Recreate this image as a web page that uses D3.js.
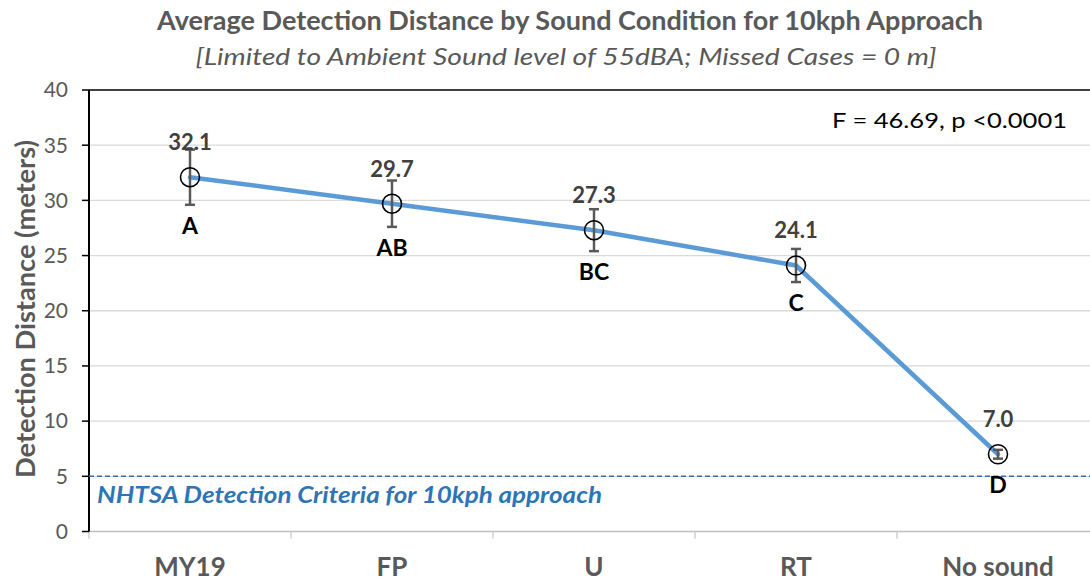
<!DOCTYPE html>
<html><head><meta charset="utf-8">
<script src="https://cdn.jsdelivr.net/npm/d3@7"></script>
<style>html,body{margin:0;padding:0;background:#fff;}svg{display:block;}</style>
</head><body>
<svg id="c" width="1090" height="581"></svg>
<script>
const categories = ["MY19", "FP", "U", "RT", "No sound"];
const means = [32.1, 29.7, 27.3, 24.1, 7.0];
const errors = [2.5, 2.1, 1.9, 1.5, 0.4];
const groups = ["A", "AB", "BC", "C", "D"];
const yTicks = [0, 5, 10, 15, 20, 25, 30, 35, 40];
const criterion = 5;
const titleText = "Average Detection Distance by Sound Condition for 10kph Approach";
const subtitleText = "[Limited to Ambient Sound  level of 55dBA; Missed Cases = 0 m]";
const statText = "F = 46.69, p <0.0001";
const criterionText = "NHTSA Detection Criteria for 10kph approach";
const yLabel = "Detection Distance (meters)";

const svg = d3.select("#c");
const font = "Lato, 'Open Sans', sans-serif";
const L = 89, R = 1099, T = 90, B = 531.5;
const x = d3.scaleBand().domain(categories).range([L, R]).padding(0);
const y = d3.scaleLinear().domain([0, 40]).range([B, T]);
const cx = c => x(c) + x.bandwidth() / 2;

// gridlines
svg.append("g").selectAll("line").data(yTicks.filter(t => t > 0 && t < 40)).join("line")
  .attr("x1", L).attr("x2", 1090).attr("y1", d => y(d)).attr("y2", d => y(d))
  .attr("stroke", "#d9d9d9").attr("stroke-width", 1.3);

// top border
svg.append("line").attr("x1", L).attr("x2", 1090).attr("y1", y(40)).attr("y2", y(40))
  .attr("stroke", "#000").attr("stroke-width", 1.5);

// x axis
svg.append("line").attr("x1", L).attr("x2", 1090).attr("y1", B).attr("y2", B)
  .attr("stroke", "#bfbfbf").attr("stroke-width", 1.5);
svg.append("g").selectAll("line").data(categories).join("line")
  .attr("x1", d => x(d)).attr("x2", d => x(d)).attr("y1", B).attr("y2", B + 7)
  .attr("stroke", "#d0d0d0").attr("stroke-width", 1.5);
svg.append("g").selectAll("text").data(categories).join("text")
  .attr("x", d => cx(d)).attr("y", 576).attr("text-anchor", "middle")
  .attr("font-family", font).attr("font-weight", "bold").attr("font-size", 26)
  .attr("fill", "#595959").text(d => d);

// y axis
svg.append("line").attr("x1", L).attr("x2", L).attr("y1", T).attr("y2", B)
  .attr("stroke", "#000").attr("stroke-width", 2);
svg.append("g").selectAll("line").data(yTicks).join("line")
  .attr("x1", L - 7).attr("x2", L).attr("y1", d => y(d)).attr("y2", d => y(d))
  .attr("stroke", "#000").attr("stroke-width", 1.5);
svg.append("g").selectAll("text").data(yTicks).join("text")
  .attr("x", 68).attr("y", d => y(d)).attr("dy", "0.35em").attr("text-anchor", "end")
  .attr("font-family", font).attr("font-size", 21).attr("fill", "#595959").text(d => d);
svg.append("text").attr("transform", `translate(35,309) rotate(-90)`)
  .attr("text-anchor", "middle").attr("font-family", font).attr("font-weight", "bold")
  .attr("font-size", 26).attr("fill", "#595959")
  .attr("textLength", 338).attr("lengthAdjust", "spacingAndGlyphs").text(yLabel);

// criterion line
svg.append("line").attr("x1", L).attr("x2", 1090).attr("y1", y(criterion)).attr("y2", y(criterion))
  .attr("stroke", "#2e75b6").attr("stroke-width", 1.4).attr("stroke-dasharray", "5,3");
svg.append("text").attr("x", 97).attr("y", 503)
  .attr("font-family", font).attr("font-weight", "bold").attr("font-style", "italic")
  .attr("font-size", 22).attr("fill", "#2e75b6")
  .attr("textLength", 505).attr("lengthAdjust", "spacingAndGlyphs").text(criterionText);

// titles
svg.append("text").attr("x", 570).attr("y", 30).attr("text-anchor", "middle")
  .attr("font-family", font).attr("font-weight", "bold").attr("font-size", 26)
  .attr("fill", "#595959").attr("textLength", 826).attr("lengthAdjust", "spacingAndGlyphs")
  .text(titleText);
svg.append("text").attr("x", 566).attr("y", 65).attr("text-anchor", "middle")
  .attr("font-family", font).attr("font-style", "italic").attr("font-size", 24)
  .attr("fill", "#595959").attr("textLength", 741).attr("lengthAdjust", "spacingAndGlyphs")
  .text(subtitleText);

// stat text
svg.append("text").attr("x", 1067).attr("y", 128).attr("text-anchor", "end")
  .attr("font-family", font).attr("font-size", 22).attr("fill", "#000")
  .attr("textLength", 235).attr("lengthAdjust", "spacingAndGlyphs").text(statText);

// data
const data = categories.map((c, i) => ({c, m: means[i], e: errors[i], g: groups[i]}));

svg.append("path").datum(data)
  .attr("d", d3.line().x(d => cx(d.c)).y(d => y(d.m)))
  .attr("fill", "none").attr("stroke", "#5b9bd5").attr("stroke-width", 4.5)
  .attr("stroke-linejoin", "round").attr("stroke-linecap", "round");

const eb = svg.append("g").attr("stroke", "#595959").attr("stroke-width", 2.5);
data.forEach(d => {
  const xc = cx(d.c);
  eb.append("line").attr("x1", xc).attr("x2", xc).attr("y1", y(d.m + d.e)).attr("y2", y(d.m - d.e));
  eb.append("line").attr("x1", xc - 5).attr("x2", xc + 5).attr("y1", y(d.m + d.e)).attr("y2", y(d.m + d.e));
  eb.append("line").attr("x1", xc - 5).attr("x2", xc + 5).attr("y1", y(d.m - d.e)).attr("y2", y(d.m - d.e));
});

svg.append("g").selectAll("circle").data(data).join("circle")
  .attr("cx", d => cx(d.c)).attr("cy", d => y(d.m)).attr("r", 9.5)
  .attr("fill", "none").attr("stroke", "#000").attr("stroke-width", 1.6);

svg.append("g").selectAll("text").data(data).join("text")
  .attr("x", d => cx(d.c)).attr("y", d => y(d.m) - 27).attr("text-anchor", "middle")
  .attr("font-family", font).attr("font-weight", "bold").attr("font-size", 22)
  .attr("fill", "#404040").text(d => d.m.toFixed(1));

svg.append("g").selectAll("text").data(data).join("text")
  .attr("x", d => cx(d.c)).attr("y", d => Math.max(y(d.m - d.e) + 29, y(d.m) + 39))
  .attr("text-anchor", "middle")
  .attr("font-family", font).attr("font-weight", "bold").attr("font-size", 23)
  .attr("fill", "#000").text(d => d.g);
</script>
</body></html>
